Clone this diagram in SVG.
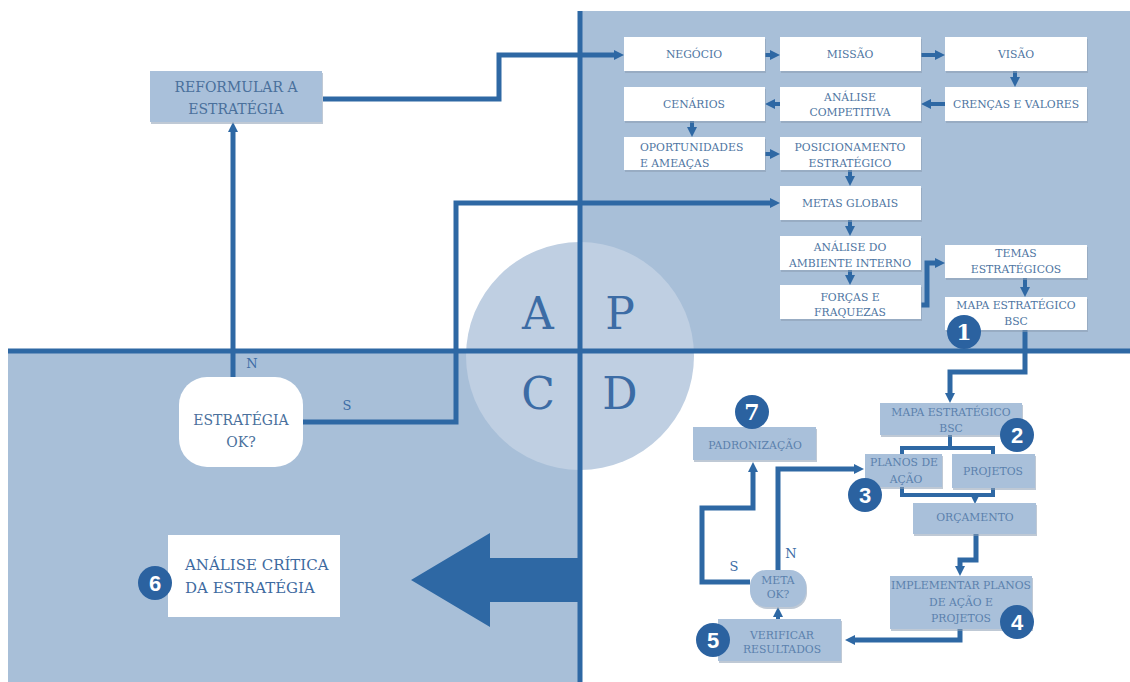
<svg xmlns="http://www.w3.org/2000/svg" width="1130" height="682" viewBox="0 0 1130 682">
<defs>
<marker id="ah" viewBox="0 0 10 10" refX="2" refY="5" markerWidth="10" markerHeight="10" markerUnits="userSpaceOnUse" orient="auto"><path d="M0,0 L10,5 L0,10 z" fill="#2e68a4"/></marker>
<style>
.panel{fill:#a8bfd8}
.axis{stroke:#2e68a4;stroke-width:5;fill:none}
.con{stroke:#2e68a4;stroke-width:5;fill:none}
.con4{stroke:#2e68a4;stroke-width:4;fill:none}
.wbox{fill:#ffffff}
.bbox{fill:#a9c0da}
.shadow{fill:#8a9db3;opacity:0.55}
.t{font-family:"DejaVu Serif","Liberation Serif",serif;font-size:10.8px;text-anchor:middle;fill:#4e75a2}
.tb{font-family:"DejaVu Serif","Liberation Serif",serif;font-size:10.8px;text-anchor:middle;fill:#5b81ad}
.tm{font-family:"DejaVu Serif","Liberation Serif",serif;font-size:14px;text-anchor:middle;fill:#4a709c}
.tl{font-family:"DejaVu Serif","Liberation Serif",serif;font-size:15px;fill:#3e6aa0}
.big{font-family:"DejaVu Serif","Liberation Serif",serif;font-size:44px;text-anchor:middle;fill:#3c6ca5}
.lab{font-family:"DejaVu Serif","Liberation Serif",serif;font-size:13px;text-anchor:middle;fill:#3c6ca5}
.badge{fill:#2b62a0}
.bn{font-family:"Liberation Sans","DejaVu Sans",sans-serif;font-weight:bold;font-size:22px;text-anchor:middle;fill:#ffffff}
.bs{font-family:"DejaVu Serif","Liberation Serif",serif;font-weight:bold;font-size:22px;text-anchor:middle;fill:#ffffff}
</style>
</defs>

<g id="background">
<rect x="0" y="0" width="1130" height="682" fill="#ffffff"/>
<rect class="panel" x="580" y="11" width="550" height="340"/>
<rect class="panel" x="8" y="351" width="572" height="331"/>
<circle cx="580" cy="356" r="114" fill="#bfcfe2"/>
<text class="big" x="538" y="329">A</text>
<text class="big" x="620" y="329">P</text>
<text class="big" x="538" y="409">C</text>
<text class="big" x="620" y="409">D</text>
<path class="axis" d="M8,351 H1130 M580,11 V682"/>
<polygon points="411,580 490,533 490,558 580,558 580,602 490,602 490,627" fill="#2e68a4"/>
</g>

<g id="connectors">
<path class="con" d="M323,99 H499 V55 H616" marker-end="url(#ah)"/>
<path class="con" d="M233,377 V130" marker-end="url(#ah)"/>
<path class="con" d="M303,422 H456 V203 H772" marker-end="url(#ah)"/>
<path class="con4" d="M765,55 H772" marker-end="url(#ah)"/>
<path class="con4" d="M921,55 H937" marker-end="url(#ah)"/>
<path class="con4" d="M1015,71 V79" marker-end="url(#ah)"/>
<path class="con4" d="M945,104 H929" marker-end="url(#ah)"/>
<path class="con4" d="M780,104 H773" marker-end="url(#ah)"/>
<path class="con4" d="M692,121 V129" marker-end="url(#ah)"/>
<path class="con4" d="M765,154 H772" marker-end="url(#ah)"/>
<path class="con4" d="M850,170 V178" marker-end="url(#ah)"/>
<path class="con4" d="M850,220 V228" marker-end="url(#ah)"/>
<path class="con4" d="M850,270 V277" marker-end="url(#ah)"/>
<path class="con" d="M921,305 H927 V263 H937" marker-end="url(#ah)"/>
<path class="con4" d="M1025,278 V289" marker-end="url(#ah)"/>
<path class="con" d="M1025,330 V372 H950 V395" marker-end="url(#ah)"/>
<path class="con4" d="M950,435 V448 M902,455 V448 H993 V455"/>
<path class="con4" d="M902,487 V495 H993 V488"/>
<path class="con4" d="M975,495 V496" marker-end="url(#ah)"/>
<path class="con" d="M976,534 V560 H960 V568" marker-end="url(#ah)"/>
<path class="con" d="M960,629 V640 H853" marker-end="url(#ah)"/>
<path class="con4" d="M778,619 V615" marker-end="url(#ah)"/>
<path class="con" d="M750,582 H702 V508 H753 V470" marker-end="url(#ah)"/>
<path class="con" d="M778,570 V469 H856" marker-end="url(#ah)"/>
</g>

<g id="reformular">
<rect class="shadow" x="151" y="73" width="172" height="51"/>
<rect class="bbox" x="150" y="71" width="172" height="51"/>
<text class="tm" x="236" y="92">REFORMULAR A</text>
<text class="tm" x="236" y="114">ESTRATÉGIA</text>
</g>

<g id="estrategia-ok">
<rect x="179" y="377" width="124" height="90" rx="28" fill="#ffffff"/>
<text class="tm" x="241" y="425">ESTRATÉGIA</text>
<text class="tm" x="241" y="447">OK?</text>
<text class="lab" x="252" y="368">N</text>
<text class="lab" x="347" y="410">S</text>
</g>

<g id="analise-critica">
<rect class="wbox" x="168" y="535" width="172" height="82"/>
<text class="tl" x="185" y="570">ANÁLISE CRÍTICA</text>
<text class="tl" x="185" y="593">DA ESTRATÉGIA</text>
<circle class="badge" cx="155" cy="583" r="17"/>
<text class="bn" x="155" y="591">6</text>
</g>

<g id="negocio">
<rect class="shadow" x="625" y="39" width="141" height="34"/>
<rect class="wbox" x="624" y="37" width="141" height="34"/>
<text class="t" x="694" y="58">NEGÓCIO</text>
</g>
<g id="missao">
<rect class="shadow" x="781" y="39" width="141" height="34"/>
<rect class="wbox" x="780" y="37" width="141" height="34"/>
<text class="t" x="850" y="58">MISSÃO</text>
</g>
<g id="visao">
<rect class="shadow" x="946" y="39" width="142" height="34"/>
<rect class="wbox" x="945" y="37" width="142" height="34"/>
<text class="t" x="1016" y="58">VISÃO</text>
</g>
<g id="crencas">
<rect class="shadow" x="946" y="89" width="142" height="34"/>
<rect class="wbox" x="945" y="87" width="142" height="34"/>
<text class="t" x="1016" y="108">CRENÇAS E VALORES</text>
</g>
<g id="analise-competitiva">
<rect class="shadow" x="781" y="89" width="141" height="34"/>
<rect class="wbox" x="780" y="87" width="141" height="34"/>
<text class="t" x="850" y="101">ANÁLISE</text>
<text class="t" x="850" y="116">COMPETITIVA</text>
</g>
<g id="cenarios">
<rect class="shadow" x="625" y="89" width="141" height="34"/>
<rect class="wbox" x="624" y="87" width="141" height="34"/>
<text class="t" x="694" y="108">CENÁRIOS</text>
</g>
<g id="oportunidades">
<rect class="shadow" x="625" y="139" width="141" height="33"/>
<rect class="wbox" x="624" y="137" width="141" height="33"/>
<text class="t" x="640" y="151" style="text-anchor:start">OPORTUNIDADES</text>
<text class="t" x="640" y="167" style="text-anchor:start">E AMEAÇAS</text>
</g>
<g id="posicionamento">
<rect class="shadow" x="781" y="139" width="141" height="33"/>
<rect class="wbox" x="780" y="137" width="141" height="33"/>
<text class="t" x="850" y="151">POSICIONAMENTO</text>
<text class="t" x="850" y="167">ESTRATÉGICO</text>
</g>
<g id="metas-globais">
<rect class="shadow" x="781" y="188" width="141" height="34"/>
<rect class="wbox" x="780" y="186" width="141" height="34"/>
<text class="t" x="850" y="207">METAS GLOBAIS</text>
</g>
<g id="ambiente-interno">
<rect class="shadow" x="781" y="238" width="141" height="34"/>
<rect class="wbox" x="780" y="236" width="141" height="34"/>
<text class="t" x="850" y="251">ANÁLISE DO</text>
<text class="t" x="850" y="267">AMBIENTE INTERNO</text>
</g>
<g id="forcas">
<rect class="shadow" x="781" y="287" width="141" height="34"/>
<rect class="wbox" x="780" y="285" width="141" height="34"/>
<text class="t" x="850" y="301">FORÇAS E</text>
<text class="t" x="850" y="316">FRAQUEZAS</text>
</g>
<g id="temas">
<rect class="shadow" x="946" y="247" width="142" height="33"/>
<rect class="wbox" x="945" y="245" width="142" height="33"/>
<text class="t" x="1016" y="257">TEMAS</text>
<text class="t" x="1016" y="273">ESTRATÉGICOS</text>
</g>
<g id="mapa-bsc-1">
<rect class="shadow" x="946" y="299" width="142" height="33"/>
<rect class="wbox" x="945" y="297" width="142" height="33"/>
<text class="t" x="1016" y="309">MAPA ESTRATÉGICO</text>
<text class="t" x="1016" y="325">BSC</text>
<circle class="badge" cx="964" cy="332" r="17"/>
<text class="bs" x="964" y="340">1</text>
</g>

<g id="mapa-bsc-2">
<rect class="shadow" x="881" y="405" width="142" height="32"/>
<rect class="bbox" x="880" y="403" width="142" height="32"/>
<text class="tb" x="951" y="416">MAPA ESTRATÉGICO</text>
<text class="tb" x="951" y="432">BSC</text>
<circle class="badge" cx="1017" cy="435" r="17"/>
<text class="bn" x="1017" y="443">2</text>
</g>
<g id="padronizacao">
<rect class="shadow" x="694" y="429" width="123" height="33"/>
<rect class="bbox" x="693" y="427" width="123" height="33"/>
<text class="tb" x="755" y="449">PADRONIZAÇÃO</text>
<circle class="badge" cx="752" cy="412" r="17"/>
<text class="bs" x="752" y="420">7</text>
</g>
<g id="planos">
<rect class="shadow" x="866" y="456" width="77" height="33"/>
<rect class="bbox" x="865" y="454" width="77" height="33"/>
<text class="tb" x="904" y="466">PLANOS DE</text>
<text class="tb" x="906" y="483">AÇÃO</text>
<circle class="badge" cx="865" cy="495" r="17"/>
<text class="bn" x="865" y="503">3</text>
</g>
<g id="projetos">
<rect class="shadow" x="953" y="456" width="83" height="34"/>
<rect class="bbox" x="952" y="454" width="83" height="34"/>
<text class="tb" x="993" y="475">PROJETOS</text>
</g>
<g id="orcamento">
<rect class="shadow" x="914" y="505" width="123" height="31"/>
<rect class="bbox" x="913" y="503" width="123" height="31"/>
<text class="tb" x="975" y="521">ORÇAMENTO</text>
</g>
<g id="implementar">
<rect class="shadow" x="891" y="578" width="142" height="53"/>
<rect class="bbox" x="890" y="576" width="142" height="53"/>
<text class="tb" x="961" y="589">IMPLEMENTAR PLANOS</text>
<text class="tb" x="961" y="606">DE AÇÃO E</text>
<text class="tb" x="961" y="622">PROJETOS</text>
<circle class="badge" cx="1017" cy="622" r="17"/>
<text class="bn" x="1017" y="630">4</text>
</g>
<g id="verificar">
<rect class="shadow" x="719" y="621" width="123" height="42"/>
<rect class="bbox" x="718" y="619" width="123" height="42"/>
<text class="tb" x="782" y="639">VERIFICAR</text>
<text class="tb" x="782" y="653">RESULTADOS</text>
<circle class="badge" cx="713" cy="640" r="17"/>
<text class="bn" x="713" y="648">5</text>
</g>
<g id="meta-ok">
<rect class="shadow" x="751" y="572" width="56" height="37" rx="16"/>
<rect class="bbox" x="750" y="570" width="56" height="37" rx="16"/>
<text class="tb" x="778" y="584">META</text>
<text class="tb" x="778" y="598">OK?</text>
<text class="lab" x="791" y="558">N</text>
<text class="lab" x="734" y="571">S</text>
</g>
</svg>
